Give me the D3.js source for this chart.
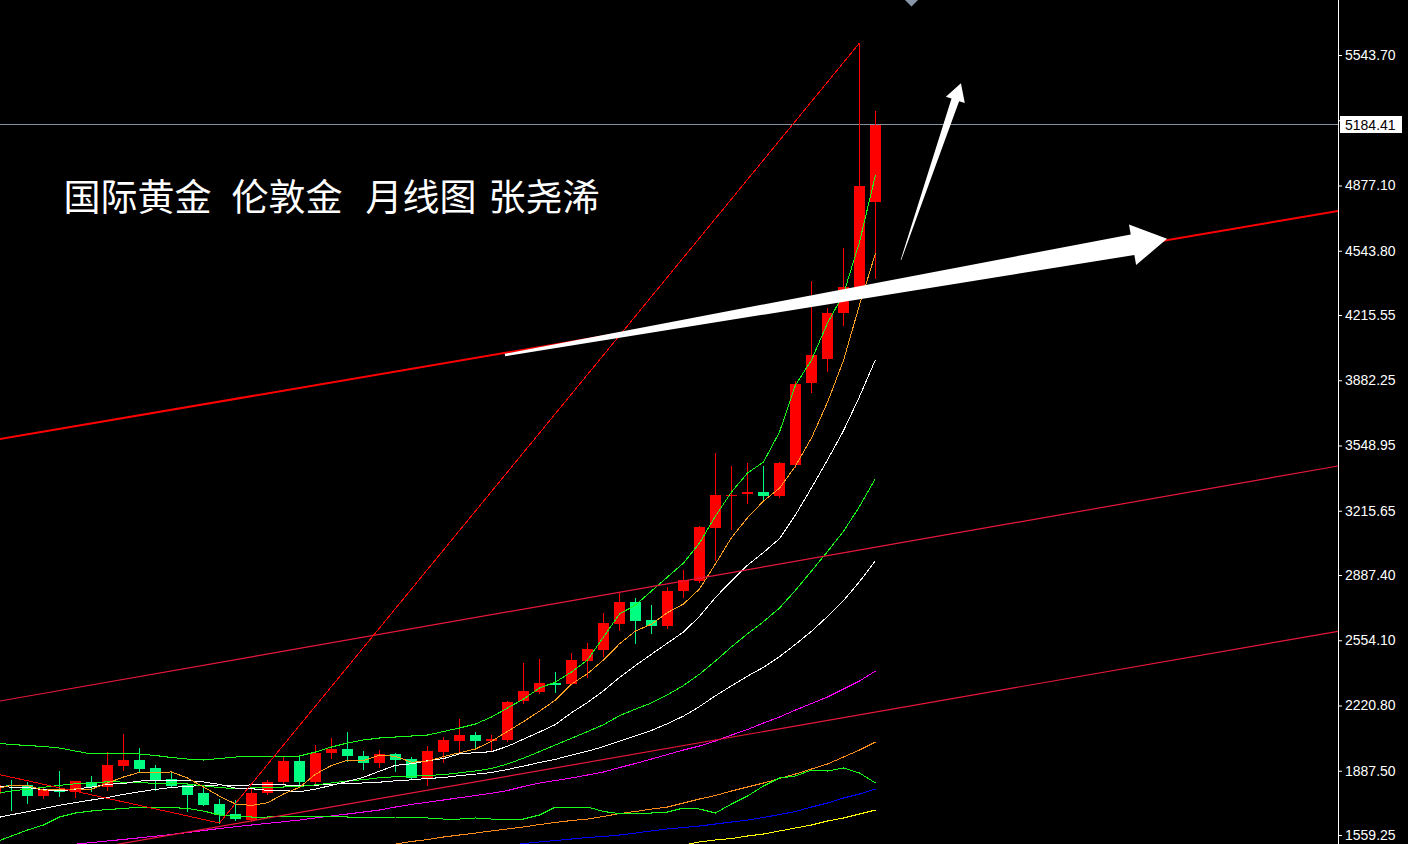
<!DOCTYPE html>
<html><head><meta charset="utf-8">
<script src="https://cdn.jsdelivr.net/npm/d3@7"></script>
<style>html,body{margin:0;padding:0;background:#000;overflow:hidden}</style>
</head><body>
<svg id="c" width="1408" height="844"></svg>
<script>
// ---------------- DATA ----------------
const months = ["2021-07","2021-08","2021-09","2021-10","2021-11","2021-12",
"2022-01","2022-02","2022-03","2022-04","2022-05","2022-06","2022-07","2022-08","2022-09","2022-10","2022-11","2022-12",
"2023-01","2023-02","2023-03","2023-04","2023-05","2023-06","2023-07","2023-08","2023-09","2023-10","2023-11","2023-12",
"2024-01","2024-02","2024-03","2024-04","2024-05","2024-06","2024-07","2024-08","2024-09","2024-10","2024-11","2024-12",
"2025-01","2025-02","2025-03","2025-04","2025-05","2025-06","2025-07","2025-08","2025-09","2025-10","2025-11","2025-12",
"2026-01","2026-02"];
const opens = [1770,1817,1814.7,1758.5,1794.2,1778.9,1830.0,1804.4,1911.7,1942.4,1901.5,1845.3,1814.7,1773.8,1717.6,1666.5,1635.9,1773.8,1830.0,1937.3,1830.0,1978.1,1998.6,1962.8,1927.0,1973.0,1947.5,1845.3,1983.2,2039.4,2070.1,2039.4,2044.5,2243.8,2289.7,2335.7,2330.6,2448.1,2504.3,2637.1,2749.5,2657.5,2626.9,2805.7,2856.7,3127.5,3291.0,3301.2,3311.4,3291.0,3449.3,3868.2,3990.8,4225.8,4353.5,4792.8];
const highs = [1832,1840.2,1830.0,1804.4,1886.2,1835.1,1860.6,1983.2,2075.2,2003.7,1916.8,1881.1,1824.9,1814.7,1743.1,1738.0,1799.3,1840.2,1957.7,1962.8,2019.0,2054.8,2085.4,1988.3,1993.5,1978.0,1957.7,2013.9,2059.9,2151.8,2085.4,2070.1,2243.8,2437.9,2458.3,2391.9,2489.0,2540.0,2693.3,2800.6,2769.9,2734.1,2826.1,2912.9,3137.0,3510.6,3444.2,3459.5,3444.2,3464.6,3878.4,4389.2,4251.3,4557.8,5605.0,5257.6];
const lows = [1750,1687.0,1722.7,1748.3,1758.5,1753.4,1784.0,1789.1,1891.3,1881.1,1789.1,1804.4,1681.8,1712.5,1620.6,1635.9,1630.8,1768.7,1824.9,1804.4,1814.7,1952.6,1937.3,1896.4,1906.6,1886.2,1850.4,1814.7,1932.2,1983.2,2003.7,1988.3,2039.4,2233.5,2284.6,2289.7,2330.6,2366.4,2473.6,2606.4,2540.0,2591.1,2616.7,2775.0,2850.0,2964.0,3122.4,3255.2,3270.5,3285.8,3440.0,3822.2,3929.5,4164.5,4307.5,4404.6];
const closes = [1814,1812,1758.5,1789.1,1778.9,1835.1,1804.4,1916.8,1942.4,1896.4,1840.2,1809.6,1763.6,1712.5,1661.4,1641.0,1773.8,1830.0,1937.3,1830.0,1978.1,1998.6,1962.8,1927.0,1973.0,1942.4,1850.4,1988.3,2044.5,2070.1,2039.4,2049.6,2238.6,2294.8,2335.7,2325.5,2453.2,2509.4,2642.2,2749.5,2652.4,2626.9,2805.7,2861.9,3132.6,3296.1,3296.1,3311.4,3291.0,3459.5,3863.1,4011.2,4225.8,4358.6,4874.5,5184.41];

const ma5 = [1793.4,1814.2,1812.1,1788.7,1790.5,1794.7,1793.2,1824.9,1855.5,1879.0,1880.0,1881.1,1850.4,1804.5,1757.5,1717.6,1710.5,1723.7,1768.7,1802.4,1869.8,1914.8,1941.4,1939.3,1967.9,1960.8,1931.1,1936.2,1959.7,1979.1,1998.5,2038.4,2088.4,2138.5,2191.6,2248.8,2329.6,2383.7,2453.2,2536.0,2601.3,2636.1,2695.3,2739.3,2815.9,2944.6,3078.5,3179.6,3265.4,3330.8,3444.2,3587.2,3770.1,3983.6,4266.6,4530.9];
const ma10 = [1810.1,1803.4,1801.7,1790.8,1784.0,1794.1,1803.7,1818.5,1822.1,1834.8,1837.4,1837.1,1837.7,1830.0,1818.2,1798.8,1795.8,1787.1,1786.6,1779.9,1793.7,1812.6,1832.6,1854.0,1885.2,1915.3,1923.0,1938.8,1949.5,1973.5,1979.7,1984.8,2012.3,2049.1,2085.4,2123.7,2184.0,2236.1,2295.9,2363.8,2425.1,2482.8,2539.5,2596.2,2675.9,2773.0,2857.3,2937.5,3002.4,3073.4,3194.4,3332.9,3474.9,3624.5,3798.7,3987.6];
const ma20 = [1769.7,1784.5,1792.9,1803.1,1813.2,1820.7,1824.4,1831.2,1829.6,1826.0,1823.7,1820.3,1819.7,1810.4,1801.1,1796.4,1799.7,1802.8,1804.4,1807.4,1815.6,1824.9,1835.1,1842.0,1851.7,1857.1,1859.4,1862.9,1868.0,1876.7,1886.7,1898.7,1922.4,1951.6,1985.3,2019.5,2053.5,2087.4,2122.7,2168.7,2202.4,2233.8,2275.9,2322.7,2380.7,2448.3,2520.6,2586.8,2649.1,2718.6,2809.8,2907.8,3007.2,3110.4,3237.3,3380.3];
const ma30 = [1645.9,1662.6,1678.1,1695.0,1710.8,1725.0,1738.0,1751.3,1766.9,1779.7,1792.3,1802.0,1807.8,1812.1,1814.9,1813.4,1814.9,1816.5,1815.2,1810.7,1813.7,1817.7,1824.0,1824.9,1829.1,1836.1,1840.8,1848.1,1852.7,1862.7,1870.3,1878.2,1894.2,1911.0,1929.6,1945.9,1967.6,1987.3,2010.6,2039.1,2066.2,2093.4,2128.1,2166.5,2215.5,2270.7,2321.4,2370.8,2415.9,2470.2,2533.1,2600.1,2675.6,2756.6,2853.3,2961.4];
const ma60 = [null,null,null,null,null,1512.5,1520.4,1528.6,1536.7,1544.9,1553.1,1561.8,1572.0,1582.2,1592.4,1601.6,1610.3,1618.5,1627.2,1635.8,1646.1,1656.3,1666.5,1676.7,1686.9,1702.2,1715.5,1726.8,1738.0,1749.7,1761.0,1772.2,1786.5,1807.0,1824.8,1837.6,1850.4,1865.7,1881.0,1904.0,1924.5,1947.4,1970.4,1993.4,2013.8,2039.4,2070.0,2098.1,2131.3,2162.0,2197.7,2230.9,2264.1,2305.0,2345.9,2397.0];
const ma120 = [null,null,null,null,null,null,null,null,null,null,null,null,null,null,null,null,null,null,null,null,null,null,null,null,1500.5,1513.2,1526.0,1536.2,1549.0,1559.2,1569.4,1579.7,1589.9,1600.1,1612.8,1623.1,1633.3,1640.9,1653.7,1669.0,1679.3,1692.0,1702.2,1722.7,1743.1,1761.0,1784.0,1804.4,1824.8,1847.8,1870.8,1896.3,1921.9,1957.6,1993.4,2034.3];
const maBlue = [null,null,null,null,null,null,null,null,null,null,null,null,null,null,null,null,null,null,null,null,null,null,null,null,null,null,null,null,null,null,null,null,1503.0,1515.8,1523.5,1531.1,1538.8,1546.4,1551.6,1559.2,1569.4,1579.7,1589.9,1597.5,1605.2,1615.4,1625.6,1635.8,1648.6,1663.9,1679.3,1702.2,1722.7,1748.2,1768.6,1794.2];
const maYellow = [null,null,null,null,null,null,null,null,null,null,null,null,null,null,null,null,null,null,null,null,null,null,null,null,null,null,null,null,null,null,null,null,null,null,null,null,null,null,null,null,null,null,1497.9,1508.1,1523.5,1533.7,1541.3,1554.1,1564.3,1579.7,1595.0,1610.3,1630.7,1646.1,1666.5,1686.9];
const bollUpper = [2029.2,2021.5,2016.4,2011.3,2003.6,1988.3,1973.0,1975.5,1978.1,1973.0,1965.3,1955.1,1947.4,1942.3,1950.0,1957.6,1960.2,1962.8,1962.8,1962.8,1983.2,2008.7,2029.2,2044.5,2054.7,2059.8,2064.9,2070.0,2087.9,2105.8,2126.2,2162.0,2207.9,2253.9,2310.1,2340.7,2391.8,2453.1,2570.6,2688.1,2734.1,2805.6,2877.1,2948.6,3050.8,3188.7,3311.3,3408.3,3464.5,3617.7,3857.8,3985.5,4174.5,4322.6,4588.3,4930.5];
const bollLower = [1523.5,1554.1,1584.8,1610.3,1651.2,1671.6,1681.8,1689.5,1694.6,1702.2,1702.2,1699.7,1694.6,1681.8,1661.4,1653.7,1651.2,1651.2,1653.7,1656.3,1656.3,1653.7,1651.2,1651.2,1648.6,1651.2,1651.2,1646.1,1640.9,1640.9,1646.1,1640.9,1635.8,1640.9,1661.4,1702.2,1702.2,1702.2,1679.3,1669.0,1666.5,1671.6,1676.7,1697.1,1692.0,1671.6,1717.6,1758.4,1809.5,1850.4,1860.6,1891.2,1886.1,1901.5,1875.9,1824.8];

// tick 5210.40 sits under the last-price box (hidden in the reference)
const tickValues = [5543.70,5210.40,4877.10,4543.80,4215.55,3882.25,3548.95,3215.65,2887.40,2554.10,2220.80,1887.50,1559.25];
const tickLabels = ["5543.70","","4877.10","4543.80","4215.55","3882.25","3548.95","3215.65","2887.40","2554.10","2220.80","1887.50","1559.25"];
const lastPrice = 5184.41;
const titleParts = ["国际黄金","伦敦金","月线图","张尧浠"];

// drawn trend lines / annotations (index, price)
const channelTop = [{i:0,p:3578.2},{i:84,p:4748.2}];
const channelMid = [{i:0,p:2239.8},{i:84,p:3445.5}];
const channelLow = [{i:0,p:1403.0},{i:84,p:2601.0}];
const zigzag = [{i:-12,p:2088},{i:14,p:1620.6},{i:54,p:5605.0}];
const arrowMain = {from:{i:31.84,p:4011.2},to:{i:73.22,p:4605.3}};
const arrowUp = {from:{i:56.59,p:4496.5},to:{i:60.34,p:5399.1}};
const markerIndex = 57.25;

// ---------------- CHART ----------------
const W = 1408, H = 844, plotRight = 1338;
const svg = d3.select('#c');
svg.append('rect').attr('width', W).attr('height', H).attr('fill', '#000');

const x = d3.scaleLinear().domain([0, 55]).range([-4.5, 875.5]);
const y = d3.scaleLinear().domain([1559.25, 5543.70]).range([835, 55]);

svg.append('defs').append('clipPath').attr('id', 'plot')
  .append('rect').attr('x', 0).attr('y', 0).attr('width', plotRight).attr('height', H);
const g = svg.append('g').attr('clip-path', 'url(#plot)');

// last price line
const ly = Math.round(y(lastPrice)) - 0.5;
g.append('line').attr('x1', 0).attr('x2', plotRight).attr('y1', ly).attr('y2', ly)
  .attr('stroke', '#8391a2').attr('stroke-width', 1).attr('shape-rendering', 'crispEdges');

// candles
const idx = d3.range(opens.length);
const cg = g.append('g');
idx.forEach(i => {
  const up = closes[i] >= opens[i];
  const col = up ? '#ff0000' : '#00ff80';
  const cx = x(i);
  cg.append('line').attr('x1', cx).attr('x2', cx)
    .attr('y1', Math.round(y(highs[i]))).attr('y2', Math.round(y(lows[i])) + 1)
    .attr('stroke', col).attr('stroke-width', 1).attr('shape-rendering', 'crispEdges');
  const top = Math.round(y(Math.max(opens[i], closes[i])));
  const bot = Math.round(y(Math.min(opens[i], closes[i])));
  cg.append('rect').attr('x', cx - 5.5).attr('y', top).attr('width', 11)
    .attr('height', Math.max(1, bot - top)).attr('fill', col).attr('shape-rendering', 'crispEdges');
});

// indicator lines
const lineGen = d3.line().defined(d => d != null).x((d, i) => x(i)).y(d => y(d));
const series = [
  {v: maYellow, c: '#ffff00'},
  {v: maBlue, c: '#0000ff'},
  {v: ma120, c: '#ff8c1a'},
  {v: ma60, c: '#ff00ff'},
  {v: bollLower, c: '#1aff1a'},
  {v: ma30, c: '#ffffff'},
  {v: ma20, c: '#1aff1a'},
  {v: ma10, c: '#ffffff'},
  {v: ma5, c: '#ffa020'},
  {v: bollUpper, c: '#1aff1a'}
];
series.forEach(s => {
  g.append('path').attr('d', lineGen(s.v)).attr('fill', 'none')
    .attr('stroke', s.c).attr('stroke-width', 1).attr('shape-rendering', 'crispEdges');
});

// channel lines
const tl = d3.line().x(d => x(d.i)).y(d => y(d.p));
g.append('path').attr('d', tl(channelMid)).attr('fill', 'none').attr('stroke', '#e8183c').attr('stroke-width', 1.2);
g.append('path').attr('d', tl(channelLow)).attr('fill', 'none').attr('stroke', '#e8183c').attr('stroke-width', 1.2);
g.append('path').attr('d', tl(zigzag)).attr('fill', 'none').attr('stroke', '#ff0000').attr('stroke-width', 1).attr('shape-rendering', 'crispEdges');
g.append('path').attr('d', tl(channelTop)).attr('fill', 'none').attr('stroke', '#ff0000').attr('stroke-width', 2);

// tapered arrows
function arrowPoly(a, headLen, headHalf, shaftHalf, tailHalf) {
  const T = [x(a.from.i), y(a.from.p)], Hh = [x(a.to.i), y(a.to.p)];
  const dx = Hh[0] - T[0], dy = Hh[1] - T[1], len = Math.hypot(dx, dy);
  const u = [dx / len, dy / len], n = [-u[1], u[0]];
  const B = [Hh[0] - u[0] * headLen, Hh[1] - u[1] * headLen];
  const P = (p, k) => [p[0] + n[0] * k, p[1] + n[1] * k];
  return [P(T, tailHalf), P(B, shaftHalf), P(B, headHalf), Hh, P(B, -headHalf), P(B, -shaftHalf), P(T, -tailHalf)];
}
g.append('polygon').attr('points', arrowPoly(arrowMain, 35, 20.6, 10.5, 1.2).join(' ')).attr('fill', '#ffffff');
g.append('polygon').attr('points', arrowPoly(arrowUp, 17.5, 10, 4, 0.3).join(' ')).attr('fill', '#ffffff');

// top marker
const mx = x(markerIndex);
g.append('path').attr('d', `M${mx - 6.5},0 L${mx + 6.5},0 L${mx},6.5 Z`).attr('fill', '#8796a8');

// right axis
svg.append('line').attr('x1', plotRight + 0.5).attr('x2', plotRight + 0.5).attr('y1', 0).attr('y2', H)
  .attr('stroke', '#ffffff').attr('stroke-width', 1).attr('shape-rendering', 'crispEdges');
const axis = d3.axisRight(y).tickValues(tickValues)
  .tickFormat((d, i) => tickLabels[i]).tickSize(3).tickPadding(3).tickSizeOuter(0);
const ag = svg.append('g').attr('transform', `translate(${plotRight + 1},0)`).call(axis);
ag.select('.domain').remove();
ag.selectAll('.tick line').attr('stroke', '#ffffff');
ag.selectAll('.tick text').attr('fill', '#ffffff')
  .style('font-family', '"Liberation Sans", Arial, sans-serif').style('font-size', '14px');

// last price label
const lyy = y(lastPrice);
svg.append('rect').attr('x', plotRight + 2).attr('y', Math.round(lyy) - 9).attr('width', 62).attr('height', 17)
  .attr('fill', '#ffffff');
svg.append('text').attr('x', plotRight + 7).attr('y', Math.round(lyy) + 5).text(lastPrice.toFixed(2))
  .attr('fill', '#000').style('font-family', '"Liberation Sans", Arial, sans-serif').style('font-size', '14px');

// title (groups separated by spaces as in the reference)
const titleX = [63.5, 231.5, 365.5, 488.5];
const tt = svg.append('text').attr('y', 211).attr('fill', '#ffffff')
  .style('font-family', '"Noto Sans CJK SC", sans-serif').style('font-size', '37px');
titleParts.forEach((t, k) => tt.append('tspan').attr('x', titleX[k]).text(t));
</script>
</body></html>
